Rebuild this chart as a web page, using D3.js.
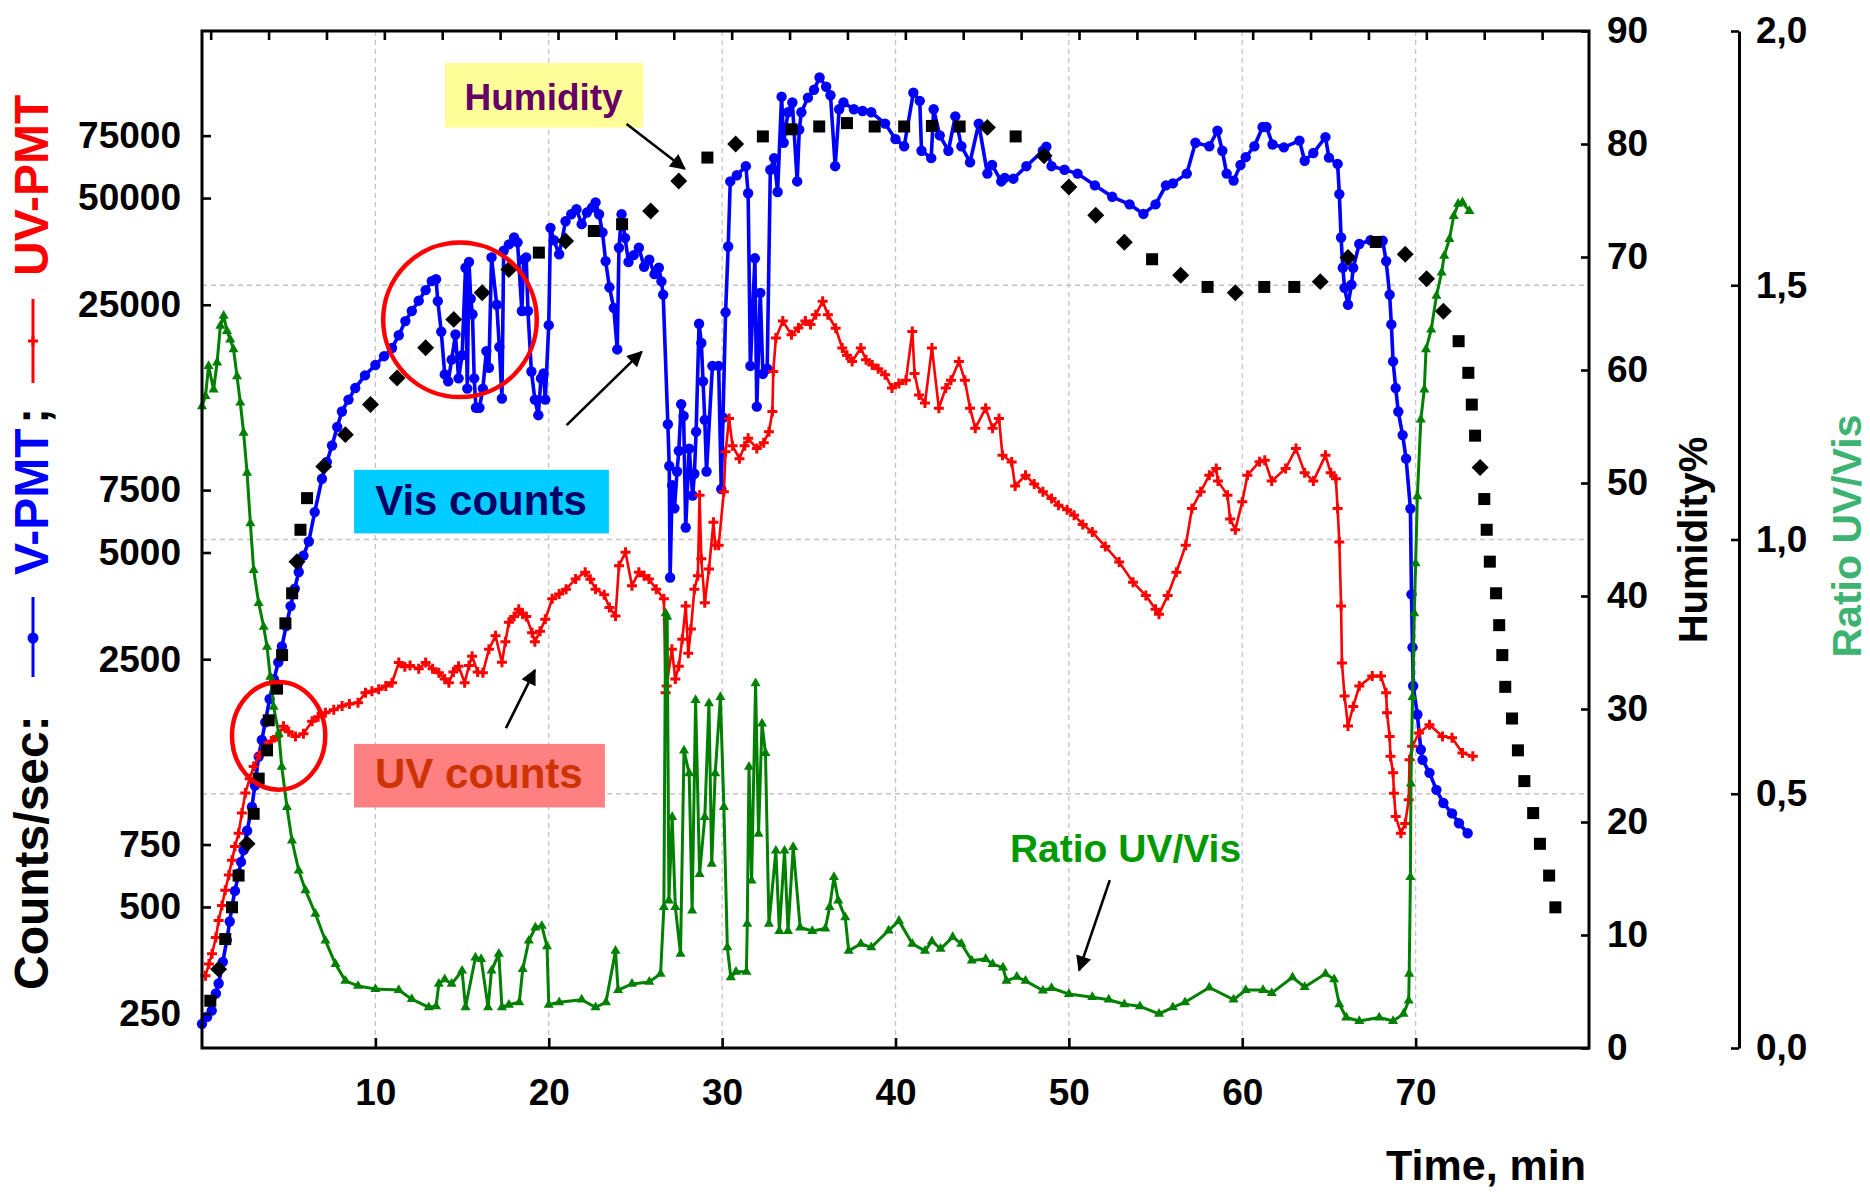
<!DOCTYPE html>
<html>
<head>
<meta charset="utf-8">
<script src="https://cdn.jsdelivr.net/npm/d3@7"></script>
<style>
  body { margin: 0; background: #fff; }
  svg text { font-family: "Liberation Sans", Arial, sans-serif; font-weight: bold; }
</style>
</head>
<body>
<svg id="chart" width="1870" height="1192"></svg>
<script>
// ---- data ----
let visTime = [0.0,0.3,0.56,0.8,0.96,1.2,1.43,1.6,1.72,1.9,2.12,2.25,2.4,2.6,2.88,3.05,3.27,3.45,3.65,3.9,4.15,4.4,4.61,4.85,5.11,5.35,5.58,5.85,6.16,6.5,6.92,7.2,7.5,7.8,8.07,8.45,8.84,9.4,10.0,10.5,10.96,11.35,11.73,12.1,12.5,12.9,13.25,13.5,13.6,13.8,14.0,14.2,14.4,14.62,14.8,15.0,15.2,15.3,15.4,15.5,15.6,15.7,15.8,16.0,16.2,16.4,16.55,16.7,17.0,17.15,17.3,17.4,17.7,18.0,18.2,18.45,18.55,18.7,18.8,19.0,19.2,19.4,19.55,19.7,19.8,20.0,20.1,20.3,20.6,20.97,21.3,21.6,21.9,22.2,22.5,22.7,22.9,23.1,23.28,23.5,23.75,23.95,24.05,24.2,24.4,24.6,24.9,25.2,25.5,25.8,26.1,26.35,26.5,26.6,26.87,26.95,27.0,27.12,27.25,27.4,27.5,27.64,27.78,27.9,28.1,28.3,28.4,28.5,28.67,28.8,28.9,29.0,29.1,29.44,29.8,29.95,30.05,30.2,30.35,30.47,30.85,31.37,31.5,31.63,31.89,32.0,32.2,32.35,32.6,32.78,33.0,33.2,33.43,33.55,33.8,34.05,34.33,34.45,34.57,34.95,35.3,35.62,36.0,36.25,36.52,36.75,37.0,37.6,38.1,38.6,39.4,40.0,40.5,41.03,41.4,41.5,42.06,42.2,42.55,43.05,43.45,43.8,44.3,44.8,45.3,45.57,46.1,46.3,46.8,47.55,48.5,48.7,49.0,49.75,50.5,51.5,52.5,53.5,54.3,55.0,55.6,56.0,56.8,57.3,58.1,58.57,58.85,59.1,59.5,59.9,60.2,60.7,61.17,61.4,61.75,62.4,63.3,63.6,64.1,64.8,65.0,65.5,65.6,65.7,65.8,65.9,66.1,66.3,66.4,66.75,67.4,68.1,68.3,68.5,68.6,68.7,68.85,69.0,69.25,69.45,69.7,69.76,69.82,69.86,70.1,70.3,70.4,70.8,71.2,71.6,72.1,72.5,73.0];
let visCounts = [234,245,255,285,304,350,403,455,499,555,622,670,723,820,958,1100,1328,1480,1660,1930,2194,2450,2717,3100,3530,3950,4405,4900,5370,6500,8070,9000,10020,11300,12500,13500,14550,15800,16900,17900,18880,20500,22480,24000,25670,27500,29150,29500,25600,21000,15900,15200,17500,20600,15500,18000,31800,14500,33000,26000,23500,15500,12800,12800,14500,18500,16600,34000,25000,19000,13600,35500,37000,38700,37500,24000,33500,34000,24000,16200,13500,12200,15500,16000,13500,21900,41200,38000,34700,43000,45000,46500,42200,45500,47000,48600,45000,40000,33200,28000,24500,18700,36200,45000,38600,33000,34500,36200,32000,33500,30500,31800,29100,26700,11500,8770,4250,7740,6660,8460,9680,13100,12140,5880,9820,7240,8340,10960,22100,19500,15200,11830,8460,16800,16800,7550,12000,23800,36500,55700,58000,61500,51600,16800,33800,12900,27000,15950,16500,60100,64800,52000,96600,71600,87300,93000,55700,78000,87300,96000,101000,109400,103000,97500,61500,89000,93000,89000,88000,87300,81100,73300,70000,99100,94000,68000,64800,89000,75100,68000,85000,70000,63100,81100,58600,62000,55700,57000,56700,61500,68000,69800,61500,60100,58600,54300,50400,48000,45100,48000,54300,55000,58600,71600,70000,77400,68000,58600,56000,62000,65200,70000,79300,79300,70800,69500,72600,63700,67000,74300,65000,62400,51300,38700,31800,27900,25000,28500,31800,37100,38000,37900,33200,26700,22000,17300,14550,12490,10720,9200,6650,3810,2700,2100,1746,1390,1300,1195,1070,982,918,861,807];

let uvTime = [0.2,0.4,0.58,0.8,0.96,1.15,1.34,1.55,1.73,1.9,2.11,2.3,2.5,2.75,2.98,3.3,3.65,4.0,4.33,4.7,5.0,5.39,5.85,6.35,6.7,7.12,7.6,8.08,8.5,9.0,9.43,9.8,10.19,10.6,10.96,11.35,11.7,12.0,12.5,12.9,13.3,13.66,14.0,14.24,14.5,14.8,15.15,15.4,15.58,15.9,16.2,16.55,16.93,17.3,17.5,17.7,18.0,18.27,18.5,18.7,19.04,19.2,19.5,19.8,20.2,20.6,21.0,21.55,22.1,22.4,22.7,23.2,23.5,23.85,24.05,24.43,24.8,25.2,25.5,25.78,26.2,26.64,26.74,26.8,27.1,27.3,27.5,27.7,27.9,28.05,28.2,28.4,28.6,28.7,28.8,29.0,29.24,29.5,29.6,29.8,30.1,30.2,30.4,30.6,31.0,31.3,31.5,32.0,32.4,32.7,32.9,32.95,33.1,33.5,34.0,34.4,34.8,35.1,35.4,35.8,36.1,36.55,36.93,37.2,37.5,38.0,38.3,38.66,39.0,39.4,39.8,40.2,40.6,40.97,41.1,41.36,41.7,42.1,42.5,42.9,43.2,43.66,44.0,44.3,44.6,45.2,45.6,45.97,46.17,46.7,46.9,47.5,48.0,48.5,49.0,49.4,49.9,50.3,50.8,51.35,52.1,52.9,53.7,54.44,55.0,55.2,55.7,56.2,56.74,57.1,57.6,58.1,58.5,58.6,59.15,59.3,59.6,60.0,60.3,61.0,61.3,61.7,62.5,63.1,63.6,64.1,64.8,65.1,65.4,65.5,65.6,65.7,65.75,65.9,66.1,66.4,66.75,67.5,68.0,68.3,68.35,68.5,68.55,68.7,68.75,68.85,69.15,69.4,69.6,69.65,69.8,70.2,70.8,71.55,72.1,72.7,73.3];
let uvCounts = [320,345,369,410,458,505,557,615,677,740,807,920,1049,1150,1245,1340,1420,1470,1513,1617,1560,1513,1540,1670,1720,1766,1800,1845,1870,1885,2012,2030,2055,2100,2145,2445,2380,2400,2350,2445,2350,2290,2200,2145,2300,2390,2145,2400,2550,2300,2290,2665,2910,2450,2800,3180,3300,3460,3350,3300,2970,2800,3000,3240,3700,3820,3940,4210,4400,4200,3940,3800,3500,3310,4590,5010,4030,4400,4300,4210,3940,3700,2010,2100,2665,2200,2390,2845,3530,2600,3040,3940,4300,7250,4800,3610,4490,6090,5240,5240,7420,9620,11940,10000,9200,10000,10500,9820,10200,10960,12490,16200,20140,22480,20580,21500,22480,22000,23440,25560,23440,21460,18880,18000,17300,18880,17500,16900,16500,15870,14550,15000,15300,21000,16000,13900,13200,18880,12770,14550,15300,17300,15300,12770,11200,12770,11200,11940,9400,9000,7700,8260,7800,7420,7100,6800,6600,6370,6000,5710,5200,4700,4120,3780,3460,3350,3780,4400,5240,6650,7420,8260,8630,7950,7250,6220,5800,6950,8260,9020,9100,7950,8630,9820,8400,7950,9400,8400,8070,6650,5350,3530,2440,1970,1620,1840,2100,2240,2240,2010,1766,1513,1330,1195,1047,900,807,860,1003,1300,1420,1548,1633,1513,1500,1360,1330];

let ratioTime = [0.0,0.2,0.38,0.67,0.87,1.06,1.25,1.44,1.63,1.82,2.02,2.21,2.4,2.6,2.79,2.98,3.27,3.56,3.75,3.94,4.13,4.43,4.6,4.9,5.19,5.58,5.97,6.54,7.12,7.7,8.27,9.0,10.0,11.35,12.1,13.08,13.5,13.66,14.0,14.4,15.0,15.2,15.77,16.1,16.5,16.7,17.12,17.3,17.7,18.3,18.5,18.85,19.23,19.6,19.9,20.0,20.6,21.9,22.7,23.3,23.85,24.0,24.8,25.8,26.45,26.64,26.74,26.83,26.93,27.12,27.3,27.6,27.8,28.1,28.27,28.47,28.7,29.0,29.24,29.4,29.6,29.9,30.1,30.3,30.5,30.8,31.4,31.45,31.55,31.7,31.93,32.1,32.3,32.5,32.7,33.1,33.3,33.6,33.8,34.1,34.5,35.2,35.95,36.2,36.45,36.7,37.1,37.3,38.0,38.6,39.6,40.2,40.97,41.7,42.1,42.6,43.3,43.8,44.4,45.2,45.6,46.2,46.4,47.0,47.5,48.5,49.0,50.0,51.35,52.3,53.2,54.1,55.2,56.0,56.7,58.1,59.5,60.2,61.2,61.7,62.9,63.6,64.8,65.3,65.6,66.0,66.75,67.9,68.7,69.3,69.6,69.63,69.7,69.73,69.82,69.92,70.0,70.1,70.3,70.5,70.6,70.9,71.2,71.5,71.65,71.95,72.2,72.45,72.7,73.1];
let ratioValues = [1.262,1.282,1.341,1.295,1.348,1.420,1.440,1.41,1.393,1.374,1.321,1.269,1.210,1.131,1.032,0.940,0.875,0.828,0.789,0.730,0.671,0.618,0.553,0.474,0.408,0.349,0.310,0.264,0.211,0.165,0.132,0.122,0.116,0.114,0.096,0.080,0.082,0.126,0.135,0.126,0.152,0.080,0.178,0.175,0.080,0.152,0.185,0.080,0.085,0.090,0.155,0.211,0.237,0.240,0.200,0.085,0.090,0.095,0.080,0.090,0.191,0.114,0.126,0.130,0.146,0.277,0.855,0.848,0.290,0.454,0.277,0.185,0.585,0.540,0.270,0.684,0.342,0.454,0.678,0.362,0.540,0.690,0.474,0.198,0.139,0.150,0.150,0.244,0.553,0.329,0.717,0.421,0.638,0.580,0.244,0.388,0.230,0.388,0.230,0.395,0.237,0.230,0.235,0.277,0.336,0.290,0.257,0.191,0.205,0.198,0.231,0.250,0.205,0.191,0.210,0.195,0.218,0.205,0.172,0.175,0.165,0.158,0.132,0.140,0.132,0.113,0.118,0.106,0.100,0.095,0.086,0.082,0.067,0.080,0.090,0.119,0.095,0.114,0.114,0.108,0.139,0.120,0.146,0.135,0.086,0.060,0.053,0.060,0.053,0.067,0.093,0.146,0.336,0.520,0.690,0.855,0.953,1.085,1.236,1.295,1.374,1.413,1.479,1.525,1.558,1.591,1.636,1.660,1.663,1.646];

let humTime = [0.48,0.96,1.34,1.73,2.11,2.6,2.98,3.27,3.75,3.85,4.33,4.62,4.81,5.2,5.48,5.68,6.06,7.02,8.27,9.72,11.25,12.9,14.52,16.16,17.7,19.43,20.97,22.6,24.23,25.88,27.5,29.15,30.78,32.35,34.0,35.6,37.2,38.8,40.5,42.1,43.7,45.3,46.93,48.57,50.0,51.55,53.2,54.8,56.45,58.0,59.6,61.27,63.0,64.5,66.1,67.7,69.4,70.63,71.6,72.48,73.04,73.24,73.43,73.72,73.96,74.1,74.28,74.64,74.82,75.0,75.17,75.56,75.9,76.27,76.78,77.17,77.7,78.06];
let humValues = [4.18,6.98,9.64,12.45,15.26,18.07,20.73,23.84,26.34,29.0,31.8,34.77,37.58,40.24,43.04,45.86,48.66,51.47,54.28,56.94,59.3,61.97,64.48,66.84,68.9,70.39,71.42,72.3,72.9,74.08,76.73,78.8,80.0,80.67,81.3,81.55,81.85,81.55,81.55,81.6,81.55,81.47,80.67,78.95,76.2,73.7,71.3,69.8,68.38,67.35,66.84,67.35,67.35,67.82,69.95,71.33,70.24,68.08,65.2,62.55,59.75,56.94,54.19,51.38,48.58,45.86,43.04,40.24,37.42,34.77,31.96,29.16,26.34,23.62,20.79,18.07,15.26,12.45];
// marker shape of each humidity point: s = square, d = diamond
let humShape = "sdsss dssss ssssd ssddd ddddd sdssd dsdss sssss sdsdd ddsds dssdd sddds sssds sssss sssss sss".replace(/ /g, "").split("");

let countTicks = [250,500,750,2500,5000,7500,25000,50000,75000];
let timeTicks = [10,20,30,40,50,60,70];
let humTicks = [0,10,20,30,40,50,60,70,80,90];
let ratioTicks = [0,0.5,1.0,1.5,2.0];
let ratioGrid = [0.5,1.0,1.5];

// annotation anchors in (time, ratio) units
let noteBoxes = [
  { label: "Humidity",   t0: 14.01, t1: 25.45, r0: 1.810, r1: 1.937, tx: 19.70, ry: 1.845, fill: "#ffff99", color: "#660066", size: 37 },
  { label: "Vis counts", t0: 8.77,  t1: 23.47, r0: 1.012, r1: 1.137, tx: 16.09, ry: 1.048, fill: "#00ccff", color: "#000066", size: 42 },
  { label: "UV counts",  t0: 8.77,  t1: 23.24, r0: 0.473, r1: 0.598, tx: 15.97, ry: 0.511, fill: "#ff8080", color: "#cc3300", size: 42 }
];
let noteArrows = [
  [24.49, 1.817, 27.84, 1.729],
  [21.03, 1.225, 25.36, 1.369],
  [17.53, 0.629, 19.20, 0.743],
  [52.36, 0.330, 50.59, 0.153]
];
let noteRings = [
  { t: 14.88, r: 1.432, dt: 4.43, dr: 0.152 },
  { t: 4.42,  r: 0.614, dt: 2.69, dr: 0.106 }
];

// ---- scales ----
let svg = d3.select("#chart");
let plotL = 202, plotR = 1589, plotT = 31, plotB = 1048;

let xScale = d3.scaleLinear().domain([0, 80]).range([plotL, plotR]);
let xTopScale = d3.scaleLinear().domain([-0.15, 23.81]).range([plotL, plotR]);
let yCounts = d3.scaleLog().domain([200, 148000]).range([plotB, plotT]);
let yHum = d3.scaleLinear().domain([0, 90]).range([plotB, plotT]);
let yRatio = d3.scaleLinear().domain([0, 2]).range([plotB, plotT]);

let defs = svg.append("defs");
defs.append("marker")
  .attr("id", "arrow")
  .attr("viewBox", "0 0 10 10")
  .attr("refX", 9).attr("refY", 5)
  .attr("markerWidth", 7).attr("markerHeight", 6)
  .attr("markerUnits", "strokeWidth")
  .attr("orient", "auto")
  .append("path").attr("d", "M0,0 L10,5 L0,10 z").attr("fill", "#000");

// ---- grid ----
svg.append("g").selectAll("line").data(timeTicks).enter().append("line")
  .attr("x1", d => xScale(d)).attr("x2", d => xScale(d))
  .attr("y1", plotT).attr("y2", plotB)
  .attr("stroke", "#c4c4c4").attr("stroke-width", 1.3).attr("stroke-dasharray", "5,4");
svg.append("g").selectAll("line").data(ratioGrid).enter().append("line")
  .attr("x1", plotL).attr("x2", plotR)
  .attr("y1", d => yRatio(d)).attr("y2", d => yRatio(d))
  .attr("stroke", "#c4c4c4").attr("stroke-width", 1.3).attr("stroke-dasharray", "5,4");

// ---- series ----
let visData = visTime.map((t, i) => [t, visCounts[i]]);
let uvData = uvTime.map((t, i) => [t, uvCounts[i]]);
let ratioData = ratioTime.map((t, i) => [t, ratioValues[i]]);
let humData = humTime.map((t, i) => [t, humValues[i], humShape[i]]);

let countLine = d3.line().x(d => xScale(d[0])).y(d => yCounts(d[1]));
let ratioLine = d3.line().x(d => xScale(d[0])).y(d => yRatio(d[1]));

svg.append("path").datum(visData).attr("d", countLine)
  .attr("fill", "none").attr("stroke", "#0000ff").attr("stroke-width", 3.6)
  .attr("stroke-linejoin", "round");
svg.append("g").selectAll("circle").data(visData).enter().append("circle")
  .attr("cx", d => xScale(d[0])).attr("cy", d => yCounts(d[1]))
  .attr("r", 5.2).attr("fill", "#0000ff");

svg.append("path").datum(uvData).attr("d", countLine)
  .attr("fill", "none").attr("stroke", "#ff0000").attr("stroke-width", 2.6)
  .attr("stroke-linejoin", "round");
svg.append("g").selectAll("path").data(uvData).enter().append("path")
  .attr("transform", d => "translate(" + xScale(d[0]) + "," + yCounts(d[1]) + ")")
  .attr("d", "M-5,0H5M0,-5V5")
  .attr("stroke", "#ff0000").attr("stroke-width", 3);

svg.append("path").datum(ratioData).attr("d", ratioLine)
  .attr("fill", "none").attr("stroke", "#008000").attr("stroke-width", 3)
  .attr("stroke-linejoin", "round");
svg.append("g").selectAll("path").data(ratioData).enter().append("path")
  .attr("transform", d => "translate(" + xScale(d[0]) + "," + yRatio(d[1]) + ")")
  .attr("d", d3.symbol(d3.symbolTriangle).size(44))
  .attr("fill", "#008000");

svg.append("g").selectAll("rect").data(humData).enter().append("rect")
  .attr("x", -6).attr("y", -6).attr("width", 12).attr("height", 12)
  .attr("transform", d => "translate(" + xScale(d[0]) + "," + yHum(d[1]) + ")" + (d[2] === "d" ? " rotate(45)" : ""))
  .attr("fill", "#000");

// ---- frame and axes ----
svg.append("rect").attr("x", plotL).attr("y", plotT)
  .attr("width", plotR - plotL).attr("height", plotB - plotT)
  .attr("fill", "none").attr("stroke", "#000").attr("stroke-width", 3);

let styleAxis = (g) => {
  g.attr("font-family", "Liberation Sans, Arial, sans-serif").attr("font-size", 37);
  g.selectAll(".tick line").attr("stroke", "#000").attr("stroke-width", 2.6);
  g.selectAll(".tick text").attr("fill", "#000");
};

let axisL = d3.axisLeft(yCounts).tickValues(countTicks).tickFormat(d3.format("d"))
  .tickSizeInner(-9).tickSizeOuter(0).tickPadding(21);
svg.append("g").attr("transform", "translate(" + plotL + ",0)").call(axisL).call(styleAxis)
  .select(".domain").remove();

let axisB = d3.axisBottom(xScale).tickValues(timeTicks).tickFormat(d3.format("d"))
  .tickSizeInner(-10).tickSizeOuter(0).tickPadding(31);
svg.append("g").attr("transform", "translate(0," + plotB + ")").call(axisB).call(styleAxis)
  .select(".domain").remove();

let axisT = d3.axisTop(xTopScale).tickValues(d3.range(24)).tickFormat("")
  .tickSizeInner(-9).tickSizeOuter(0);
svg.append("g").attr("transform", "translate(0," + plotT + ")").call(axisT).call(styleAxis)
  .select(".domain").remove();

let axisH = d3.axisRight(yHum).tickValues(humTicks).tickFormat(d3.format("d"))
  .tickSizeInner(-8).tickSizeOuter(0).tickPadding(18);
svg.append("g").attr("transform", "translate(" + plotR + ",0)").call(axisH).call(styleAxis)
  .select(".domain").remove();

let axisR = d3.axisRight(yRatio).tickValues(ratioTicks)
  .tickFormat(d => d3.format(".1f")(d).replace(".", ","))
  .tickSizeInner(-8).tickSizeOuter(0).tickPadding(17);
let gR = svg.append("g").attr("transform", "translate(1739,0)").call(axisR).call(styleAxis);
gR.select(".domain").attr("stroke", "#000").attr("stroke-width", 3);

// ---- axis titles ----
svg.append("text").attr("x", 1586).attr("y", 1180).attr("text-anchor", "end")
  .attr("font-size", 43).attr("fill", "#000").text("Time, min");

svg.append("text").attr("transform", "translate(1707,540) rotate(-90)")
  .attr("text-anchor", "middle").attr("font-size", 40).attr("fill", "#000").text("Humidity%");

svg.append("text").attr("transform", "translate(1861,536) rotate(-90)")
  .attr("text-anchor", "middle").attr("font-size", 41).attr("fill", "#3cb371").text("Ratio UV/Vis");

let titleG = svg.append("g").attr("transform", "translate(48,990) rotate(-90)");
titleG.append("text").attr("x", 0).attr("font-size", 48).attr("fill", "#000").text("Counts/sec:");
titleG.append("line").attr("x1", 313).attr("x2", 393).attr("y1", -15).attr("y2", -15)
  .attr("stroke", "#0000ff").attr("stroke-width", 3);
titleG.append("circle").attr("cx", 352).attr("cy", -15).attr("r", 5.5).attr("fill", "#0000ff");
titleG.append("text").attr("x", 415).attr("font-size", 48).attr("fill", "#0000ff").text("V-PMT");
titleG.append("text").attr("x", 566).attr("font-size", 48).attr("fill", "#000").text(";");
titleG.append("line").attr("x1", 607).attr("x2", 691).attr("y1", -15).attr("y2", -15)
  .attr("stroke", "#ff0000").attr("stroke-width", 3);
titleG.append("path").attr("transform", "translate(649,-15)").attr("d", "M-5,0H5M0,-5V5")
  .attr("stroke", "#ff0000").attr("stroke-width", 3);
titleG.append("text").attr("x", 714).attr("font-size", 48).attr("fill", "#ff0000").text("UV-PMT");

// ---- annotations ----
noteBoxes.forEach(b => {
  svg.append("rect")
    .attr("x", xScale(b.t0)).attr("y", yRatio(b.r1))
    .attr("width", xScale(b.t1) - xScale(b.t0)).attr("height", yRatio(b.r0) - yRatio(b.r1))
    .attr("fill", b.fill);
  svg.append("text").attr("x", xScale(b.tx)).attr("y", yRatio(b.ry))
    .attr("text-anchor", "middle").attr("font-size", b.size).attr("fill", b.color).text(b.label);
});

svg.append("text").attr("x", xScale(46.6)).attr("y", yRatio(0.366))
  .attr("font-size", 39).attr("fill", "#009900").text("Ratio UV/Vis");

noteArrows.forEach(a => {
  svg.append("line")
    .attr("x1", xScale(a[0])).attr("y1", yRatio(a[1]))
    .attr("x2", xScale(a[2])).attr("y2", yRatio(a[3]))
    .attr("stroke", "#000").attr("stroke-width", 2.6)
    .attr("marker-end", "url(#arrow)");
});

noteRings.forEach(c => {
  svg.append("ellipse")
    .attr("cx", xScale(c.t)).attr("cy", yRatio(c.r))
    .attr("rx", xScale(c.t + c.dt) - xScale(c.t))
    .attr("ry", yRatio(c.r - c.dr) - yRatio(c.r))
    .attr("fill", "none").attr("stroke", "#ff0000").attr("stroke-width", 4.5);
});

// sanity check on the hand-typed arrays
let lens = [visTime.length, visCounts.length, uvTime.length, uvCounts.length,
            ratioTime.length, ratioValues.length, humTime.length, humValues.length, humShape.length];
if (lens[0] !== lens[1] || lens[2] !== lens[3] || lens[4] !== lens[5] || lens[6] !== lens[7] || lens[6] !== lens[8]) {
  throw new Error("length mismatch " + lens.join(","));
}
</script>
</body>
</html>
